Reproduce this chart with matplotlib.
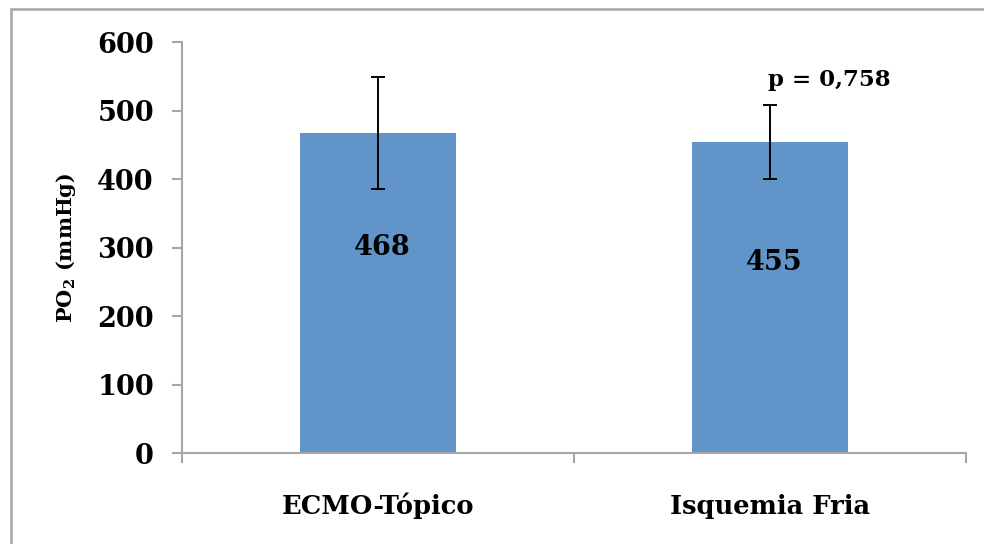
import matplotlib
matplotlib.use("Agg")
import matplotlib.pyplot as plt
from matplotlib.patches import Rectangle

categories = ["ECMO-Tópico", "Isquemia Fria"]
means = [468, 455]
errors = [82, 54]
p_text = "p = 0,758"
yticks = [0, 100, 200, 300, 400, 500, 600]

plt.rcParams["font.family"] = ["DejaVu Serif"]
plt.rcParams["font.weight"] = "bold"
plt.rcParams["mathtext.fontset"] = "dejavuserif"

W, H = 984, 544
fig = plt.figure(figsize=(W / 100, H / 100), dpi=100)
ax = fig.add_axes([182 / W, 1 - 453 / H, (966 - 182) / W, (453 - 42.3) / H])

gray = "#A6A6A6"
bar_color = "#6194C8"

x = list(range(len(categories)))
ax.bar(x, means, width=0.4, color=bar_color, zorder=2)
ax.errorbar(x, means, yerr=errors, fmt="none", ecolor="black",
            elinewidth=1.4, capsize=5, capthick=1.4, zorder=3)

# value labels inside the bars
label_y = [300, 279]
for xi, v, ly in zip(x, means, label_y):
    ax.text(xi + 0.01, ly, f"{v}", ha="center", va="center",
            fontsize=19.5, fontweight="bold", color="black", zorder=4)

ax.text(0.995, 545, p_text, ha="left", va="center",
        fontsize=16.5, fontweight="bold", color="black")

ax.set_xlim(-0.5, 1.5)
ax.set_ylim(0, 600)
ax.set_yticks(yticks)
ax.set_yticklabels([str(t) for t in yticks], fontsize=19.5, fontweight="bold")
ax.set_xticks(x)
ax.set_xticklabels(categories, fontsize=18.5, fontweight="bold", va="baseline")
ax.set_xticks([-0.5, 0.5, 1.5], minor=True)

ax.tick_params(axis="y", direction="out", length=7.2, width=1.5, color=gray, pad=13)
ax.tick_params(axis="x", which="major", length=0, pad=44)
ax.tick_params(axis="x", which="minor", direction="out", length=7.2, width=1.5, color=gray)

for s in ["top", "right"]:
    ax.spines[s].set_visible(False)
for s in ["left", "bottom"]:
    ax.spines[s].set_color(gray)
    ax.spines[s].set_linewidth(1.5)

ax.set_ylabel(r"PO$_\mathbf{2}$ (mmHg)", fontsize=15, fontweight="bold")
ax.yaxis.set_label_coords(-0.133, 0.5)

# chart area frame
fig.patches.append(Rectangle((11 / W, -0.1), 1.2, 1 - 9 / H + 0.1,
                             transform=fig.transFigure, fill=False,
                             edgecolor=gray, linewidth=1.8))

fig.savefig("out.png", dpi=100)
